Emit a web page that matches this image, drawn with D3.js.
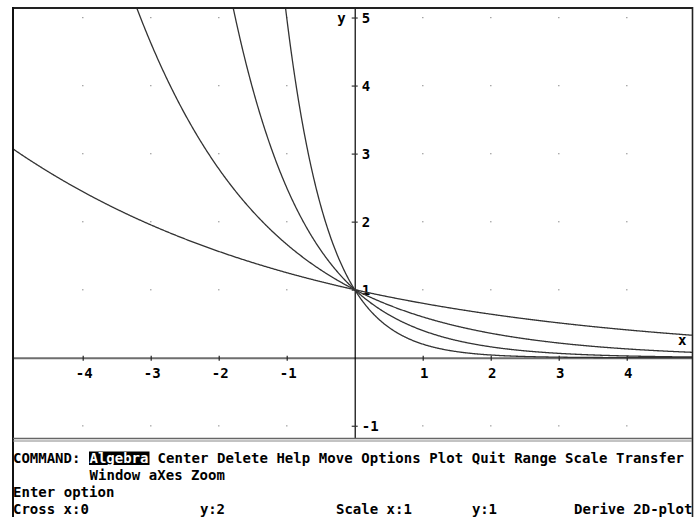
<!DOCTYPE html>
<html>
<head>
<meta charset="utf-8">
<script src="https://cdn.jsdelivr.net/npm/d3@7"></script>
<style>
  html, body { margin: 0; padding: 0; background: #ffffff; }
  svg { display: block; }
  text { font-family: "DejaVu Sans Mono", "Liberation Mono", monospace; font-weight: bold; font-size: 14px; fill: #000; }
</style>
</head>
<body>
<svg id="plot" width="695" height="517"></svg>
<script>
// Bases of the plotted exponentials y = b^x
const bases = [0.8, 0.6, 0.4, 0.2];
// Axis ticks and lattice of grid dots
const xTicks = [-4, -3, -2, -1, 1, 2, 3, 4];
const yTicks = [-1, 1, 2, 3, 4, 5];
const gridX = [-4, -3, -2, -1, 0, 1, 2, 3, 4];
const gridY = [-1, 0, 1, 2, 3, 4, 5];
// Visible plot window (Derive 2D-plot range)
const xWindow = [-5.025, 4.96];
const yWindow = [-1.18, 5.14];
// Command / status lines: [column, text]
const menuRows = [
  [[0, "COMMAND:"], [9, "Algebra"], [17, "Center Delete Help Move Options Plot Quit Range Scale Transfer"]],
  [[9, "Window aXes Zoom"]],
  [[0, "Enter option"]],
  [[0, "Cross x:0"], [22, "y:2"], [38, "Scale x:1"], [54, "y:1"], [66, "Derive 2D-plot"]]
];
const highlighted = "Algebra";

const svg = d3.select("#plot");
const pLeft = 13, pRight = 692, pTop = 8, pBottom = 438;

const x = d3.scaleLinear().domain(xWindow).range([pLeft, pRight]);
const y = d3.scaleLinear().domain(yWindow).range([pBottom, pTop]);
const intLabel = d => String(d);

svg.append("defs").append("clipPath").attr("id", "clip")
  .append("rect").attr("x", pLeft).attr("y", pTop)
  .attr("width", pRight - pLeft).attr("height", pBottom - pTop);

// grid dots
const dots = svg.append("g");
gridX.forEach(gx => gridY.forEach(gy => {
  if (gx === 0 || gy === 0) return;
  dots.append("rect").attr("x", x(gx) - 0.5).attr("y", y(gy) - 0.5)
    .attr("width", 1.2).attr("height", 1.2).attr("fill", "#8a8a8a");
}));

// x axis
const xAxis = svg.append("g").attr("transform", `translate(0,${y(0)})`)
  .call(d3.axisBottom(x).tickValues(xTicks).tickSize(3).tickSizeOuter(0).tickFormat(intLabel));
xAxis.attr("font-family", null).attr("font-size", null);
xAxis.select(".domain").attr("stroke", "#6e6e6e").attr("stroke-width", 2);
xAxis.selectAll(".tick line").attr("y1", -2).attr("y2", 3).attr("stroke", "#222").attr("stroke-width", 1.2);
xAxis.selectAll(".tick text").attr("y", 20).attr("dy", 0).attr("dx", 1);

// y axis
const yAxis = svg.append("g").attr("transform", `translate(${x(0)},0)`)
  .call(d3.axisRight(y).tickValues(yTicks).tickSize(3).tickSizeOuter(0).tickFormat(intLabel));
yAxis.attr("font-family", null).attr("font-size", null);
yAxis.select(".domain").attr("stroke", "#000").attr("stroke-width", 1.2);
yAxis.selectAll(".tick line").attr("x1", -3).attr("x2", 3).attr("stroke", "#333").attr("stroke-width", 1.2);
yAxis.selectAll(".tick text").attr("x", 7).attr("dy", "0.36em");

// curves
const xs = d3.range(xWindow[0], xWindow[1] + 0.01, 0.01);
const line = d3.line().x(d => x(d[0])).y(d => y(d[1]));
svg.append("g").attr("clip-path", "url(#clip)")
  .selectAll("path").data(bases).join("path")
  .attr("d", b => line(xs.map(v => [v, Math.min(Math.pow(b, v), 8)])))
  .attr("fill", "none").attr("stroke", "#333").attr("stroke-width", 1.3);

// axis names
svg.append("text").attr("x", x(0) - 9).attr("y", 23).attr("text-anchor", "end").text("y");
svg.append("text").attr("x", 678).attr("y", 345).text("x");

// frame
svg.append("line").attr("x1", pLeft).attr("x2", pRight + 1).attr("y1", pTop).attr("y2", pTop)
  .attr("stroke", "#222").attr("stroke-width", 2);
svg.append("line").attr("x1", pLeft).attr("x2", pLeft).attr("y1", pTop - 1).attr("y2", 517)
  .attr("stroke", "#111").attr("stroke-width", 2);
svg.append("line").attr("x1", pRight + 0.5).attr("x2", pRight + 0.5).attr("y1", pTop - 1).attr("y2", 517)
  .attr("stroke", "#222").attr("stroke-width", 1.6);
svg.append("line").attr("x1", pLeft).attr("x2", pRight).attr("y1", 438.5).attr("y2", 438.5)
  .attr("stroke", "#666").attr("stroke-width", 1.3);
svg.append("line").attr("x1", pLeft).attr("x2", pRight).attr("y1", 441).attr("y2", 441)
  .attr("stroke", "#888").attr("stroke-width", 1.1);

// command area
const colW = 8.5, textLeft = 13, rowBase = [463, 480, 497, 514];
menuRows.forEach((row, i) => {
  row.forEach(([col, str]) => {
    if (str === highlighted) {
      svg.append("rect").attr("x", textLeft + col * colW - 0.5).attr("y", rowBase[i] - 11.5)
        .attr("width", str.length * colW + 1).attr("height", 13.5).attr("fill", "#000");
    }
    svg.append("text").attr("x", textLeft + col * colW).attr("y", rowBase[i])
      .attr("textLength", str.length * colW - 0.6).attr("lengthAdjust", "spacing")
      .style("fill", str === highlighted ? "#fff" : "#000")
      .text(str);
  });
});
</script>
</body>
</html>
